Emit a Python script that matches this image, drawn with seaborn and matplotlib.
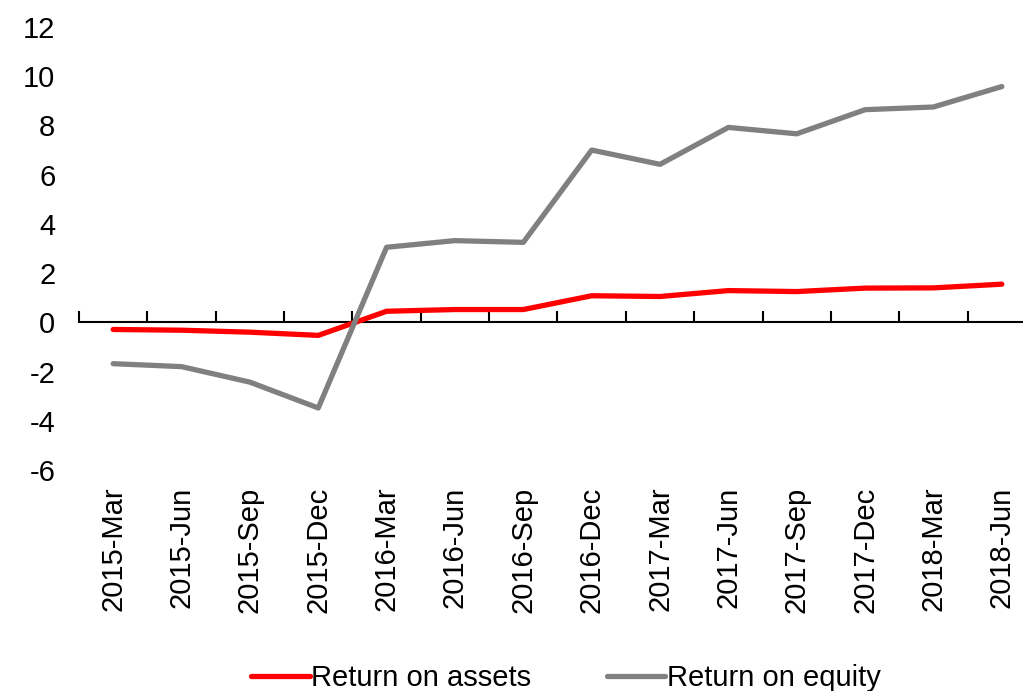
import numpy as np
import pandas as pd
import matplotlib
matplotlib.use("Agg")
import matplotlib.pyplot as plt
import seaborn as sns

# ================= DATA =================
quarters = ["2015-Mar", "2015-Jun", "2015-Sep", "2015-Dec",
            "2016-Mar", "2016-Jun", "2016-Sep", "2016-Dec",
            "2017-Mar", "2017-Jun", "2017-Sep", "2017-Dec",
            "2018-Mar", "2018-Jun"]
roa = [-0.29, -0.32, -0.40, -0.53, 0.45, 0.52, 0.52, 1.08,
       1.05, 1.29, 1.25, 1.39, 1.40, 1.55]
roe = [-1.68, -1.80, -2.43, -3.48, 3.05, 3.32, 3.25, 7.0,
       6.42, 7.92, 7.66, 8.64, 8.75, 9.58]

df = pd.DataFrame({
    "quarter": quarters * 2,
    "value": roa + roe,
    "series": ["Return on assets"] * len(quarters) + ["Return on equity"] * len(quarters),
})
df["pos"] = list(range(len(quarters))) * 2

# ================= PLOT =================
sns.set_style("white")
plt.rcParams["font.family"] = ["Liberation Sans", "DejaVu Sans"]
plt.rcParams["axes.unicode_minus"] = False
plt.rcParams["text.color"] = "black"
plt.rcParams["xtick.color"] = "black"
plt.rcParams["ytick.color"] = "black"

fig = plt.figure(figsize=(10.23, 6.91), dpi=100)
ax = fig.add_axes([79 / 1023, 1 - 470 / 691, (1036 - 79) / 1023, (470 - 27) / 691])

sns.lineplot(data=df, x="pos", y="value", hue="series",
             palette={"Return on assets": "#ff0000", "Return on equity": "#808080"},
             linewidth=3.8, ax=ax, legend=True)

ax.set_xlim(-0.5, len(quarters) - 0.5)
ax.set_ylim(-6, 12)
ax.set_yticks(np.arange(-6, 13, 2))
ax.set_xticks(range(len(quarters)))
ax.set_xticklabels(quarters, rotation=90)
ax.tick_params(axis="x", length=0, pad=12, labelsize=21, labelcolor="black")
ax.tick_params(axis="y", length=0, pad=17, labelsize=21, labelcolor="black")
ax.set_xlabel("")
ax.set_ylabel("")
for s in ax.spines.values():
    s.set_visible(False)

# zero line with boundary ticks
zero = ax.secondary_xaxis(6 / 18)
zero.set_xticks(np.arange(-0.5, len(quarters), 1))
zero.tick_params(direction="in", length=8, width=1.5, color="black",
                 labelbottom=False, labeltop=False)
zero.set_xticklabels([])
zero.spines["bottom"].set_linewidth(1.5)
zero.spines["top"].set_linewidth(1.5)
zero.spines["bottom"].set_color("black")
zero.spines["top"].set_color("black")

handles, labels = ax.get_legend_handles_labels()
ax.legend(handles, labels, loc="lower center",
          bbox_to_anchor=(0.5 * 1023 / (1036 - 79) - 79 / (1036 - 79) + 0.057, -0.56),
          ncol=2, frameon=False, fontsize=21, handlelength=2.0,
          handletextpad=0.05, columnspacing=2.6)

fig.savefig("out.png", dpi=100)
